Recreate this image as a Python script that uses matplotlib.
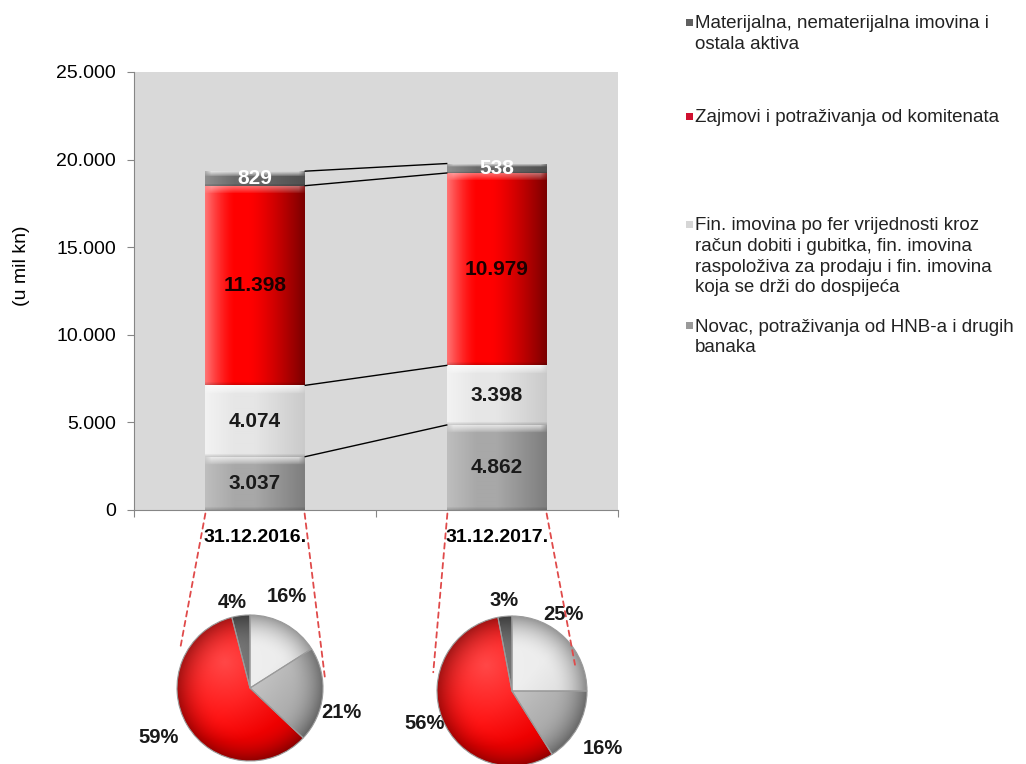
import numpy as np
import matplotlib
matplotlib.use("Agg")
import matplotlib.pyplot as plt
from matplotlib.patches import ConnectionPatch, Rectangle
from matplotlib.colors import to_rgb

plt.rcParams['font.family'] = ['Liberation Sans', 'DejaVu Sans']

# ---------------- data ----------------
categories = ['31.12.2016.', '31.12.2017.']
series_names = ['Novac, potraživanja od HNB-a i drugih\nbanaka',
                'Fin. imovina po fer vrijednosti kroz\nračun dobiti i gubitka, fin. imovina\nraspoloživa za prodaju i fin. imovina\nkoja se drži do dospijeća',
                'Zajmovi i potraživanja od komitenata',
                'Materijalna, nematerijalna imovina i\nostala aktiva']
novac = [3037, 4862]
fin_imovina = [4074, 3398]
zajmovi = [11398, 10979]
materijalna = [829, 538]
bar_labels_2016 = ['3.037', '4.074', '11.398', '829']
bar_labels_2017 = ['4.862', '3.398', '10.979', '538']
pie_2016 = [16, 21, 59, 4]
pie_2017 = [25, 16, 56, 3]
pie_labels_2016 = ['16%', '21%', '59%', '4%']
pie_labels_2017 = ['25%', '16%', '56%', '3%']
yticks = [0, 5000, 10000, 15000, 20000, 25000]
ytick_labels = ['0', '5.000', '10.000', '15.000', '20.000', '25.000']

# ---------------- style ----------------
bar_colors = ['#a8a8a8', '#e6e6e6', '#ff0000', '#6a6a6a']
bar_text_colors = ['#1a1a1a', '#1a1a1a', '#1a0000', 'white']
pie_colors = ['#ebebeb', '#b8b8b8', '#ff0000', '#505050']
legend_marker_colors = ['#9a9a9a', '#d6d6d6', '#d01030', '#606060']

W, H = 1026, 764
fig = plt.figure(figsize=(W / 100, H / 100), dpi=100)

def fx(px):
    return px / W

def fy(py):
    return 1 - py / H

AX_L, AX_T, AX_R, AX_B = 134, 72, 618, 510
ax = fig.add_axes([fx(AX_L), fy(AX_B), (AX_R - AX_L) / W, (AX_B - AX_T) / H])
ax.set_facecolor('#d9d9d9')
YMAX = 25000
px_per_unit = (AX_B - AX_T) / YMAX

xpos = np.array([0.5, 1.5])
bw = 0.41
series = [novac, fin_imovina, zajmovi, materijalna]
bottoms = np.zeros(2)
containers = []
for vals, col in zip(series, bar_colors):
    bc = ax.bar(xpos, vals, bw, bottom=bottoms, color=col, edgecolor='none', zorder=2)
    containers.append(bc)
    bottoms = bottoms + np.array(vals)


def bar_gradient(patch, base, kind):
    x0, y0 = patch.get_x(), patch.get_y()
    w, h = patch.get_width(), patch.get_height()
    hpx = max(int(round(h * px_per_unit)), 3)
    wpx = 100
    base = np.array(to_rgb(base))
    t = np.linspace(0, 1, wpx)
    if kind == 'red':
        lw = 0.45 * np.clip(1 - t / 0.3, 0, 1) ** 1.5
        dk = 0.52 * np.clip((t - 0.45) / 0.55, 0, 1) ** 1.3
    elif kind == 'light':
        lw = 0.5 * np.clip(1 - t / 0.3, 0, 1)
        dk = 0.12 * np.clip((t - 0.5) / 0.5, 0, 1)
    else:
        lw = 0.25 * np.clip(1 - t / 0.3, 0, 1)
        dk = 0.25 * np.clip((t - 0.5) / 0.5, 0, 1)
    row = base[None, :] * (1 - lw[:, None]) + lw[:, None]
    row = row * (1 - dk[:, None])
    img = np.repeat(row[None, :, :], hpx, axis=0)
    bev = min(8, max(hpx // 3, 1))
    edge = np.clip(np.minimum(t, 1 - t) / 0.06, 0, 1)
    for r in range(bev):
        a = 0.75 * (1 - r / bev) ** 0.8
        if kind == 'red':
            a *= 0.6
        aa = a * (0.4 + 0.6 * edge)
        img[r] = img[r] * (1 - aa[:, None]) + aa[:, None]
    nb = min(3, max(hpx // 6, 1))
    for r in range(nb):
        img[hpx - 1 - r] *= 0.85 + 0.05 * r
    im = ax.imshow(np.clip(img, 0, 1), extent=(x0, x0 + w, y0, y0 + h), origin='upper',
                   aspect='auto', interpolation='bilinear', zorder=2.5)
    im.set_clip_path(patch)

kinds = ['mid', 'light', 'red', 'dark']
for bc, col, kd in zip(containers, bar_colors, kinds):
    for p in bc.patches:
        bar_gradient(p, col, kd)

# connector lines between stacked segment boundaries
cum = np.cumsum(np.array(series), axis=0)
for k in range(cum.shape[0]):
    ax.plot([xpos[0] + bw / 2, xpos[1] - bw / 2], [cum[k, 0], cum[k, 1]],
            color='black', lw=1.0, zorder=3, solid_capstyle='butt')

# value labels
labels_all = [bar_labels_2016, bar_labels_2017]
bottoms = np.zeros(2)
for si, vals in enumerate(series):
    for ci in range(2):
        yc = bottoms[ci] + vals[ci] / 2
        ax.text(xpos[ci], yc, labels_all[ci][si], ha='center', va='center',
                fontsize=15, fontweight='bold', color=bar_text_colors[si], zorder=4)
    bottoms = bottoms + np.array(vals)

ax.set_xlim(0, 2)
ax.set_ylim(0, YMAX)
ax.set_yticks(yticks)
ax.set_yticklabels(ytick_labels, fontsize=14)
ax.set_xticks([0, 1, 2])
ax.set_xticklabels(['', '', ''])
ax.set_xticks(xpos, minor=True)
ax.set_xticklabels(categories, minor=True, fontsize=14, fontweight='bold')
ax.tick_params(axis='x', which='minor', length=0, pad=13.5)
ax.tick_params(axis='x', which='major', length=5, color='#868686', direction='out')
ax.tick_params(axis='y', length=5, color='#868686', direction='out', pad=8)
for s in ['top', 'right']:
    ax.spines[s].set_visible(False)
for s in ['left', 'bottom']:
    ax.spines[s].set_color('#868686')
ax.set_ylabel('(u mil kn)', fontsize=14)
ax.yaxis.set_label_coords((30 - AX_L) / (AX_R - AX_L), (AX_B - 266) / (AX_B - AX_T))

# ---------------- legend ----------------
legend_order = [3, 2, 1, 0]
legend_first_line = [22, 116, 224, 325]
for li, si in enumerate(legend_order):
    yc = legend_first_line[li]
    fig.text(fx(695), fy(yc - 6.5), series_names[si], ha='left', va='top', fontsize=13.5,
             color='#222222', linespacing=1.28)
    fig.patches.append(Rectangle((fx(686), fy(yc + 3.5)), 7 / W, 7 / H,
                                 transform=fig.transFigure, facecolor=legend_marker_colors[si],
                                 edgecolor='none'))

# ---------------- pies ----------------

def pie_axes(cx, cy, r, lim=1.7):
    size = 2 * lim * r
    pa = fig.add_axes([fx(cx - size / 2), fy(cy + size / 2), size / W, size / H])
    pa.set_xlim(-lim, lim)
    pa.set_ylim(-lim, lim)
    pa.axis('off')
    return pa

def shade_wedges(pa, wedges, colors):
    n = 200
    g = np.linspace(-1.02, 1.02, n)
    X, Y = np.meshgrid(g, g[::-1])
    R = np.sqrt(X ** 2 + Y ** 2)
    d = np.sqrt((X + 0.35) ** 2 + (Y - 0.35) ** 2)
    light = 0.28 * np.clip(1 - d / 1.1, 0, 1)
    dark = 0.35 * np.clip((R - 0.55) / 0.45, 0, 1) ** 2 + 0.15 * np.clip((X - Y) / 2, 0, 1)
    for wdg, col in zip(wedges, colors):
        base = np.array(to_rgb(col))
        img = base[None, None, :] * (1 - light[..., None]) + light[..., None]
        img = img * (1 - dark[..., None])
        im = pa.imshow(np.clip(img, 0, 1), extent=(-1.02, 1.02, -1.02, 1.02),
                       interpolation='bilinear', zorder=2)
        im.set_clip_path(wdg)
    pa.set_xlim(-1.7, 1.7)
    pa.set_ylim(-1.7, 1.7)

pie_specs = [
    (250, 688, 73, pie_2016, pie_labels_2016,
     [(0.51, 1.25), (1.25, -0.33), (-1.25, -0.68), (-0.25, 1.17)]),
    (512, 691, 75, pie_2017, pie_labels_2017,
     [(0.68, 1.02), (1.21, -0.76), (-1.16, -0.43), (-0.11, 1.2)]),
]
pie_axes_list = []
for cx, cy, r, vals, labs, lpos in pie_specs:
    pa = pie_axes(cx, cy, r)
    wedges, _ = pa.pie(vals, colors=pie_colors, startangle=90, counterclock=False,
                       radius=1, wedgeprops=dict(edgecolor='#9a9a9a', linewidth=0.8))
    shade_wedges(pa, wedges, pie_colors)
    for wdg in wedges:
        wdg.set_zorder(3)
        wdg.set_facecolor('none')
    for lab, (lx, ly) in zip(labs, lpos):
        pa.text(lx, ly, lab, ha='center', va='center', fontsize=14.5, fontweight='bold',
                color='#1a1a1a', zorder=5)
    pa.set_aspect('equal')
    pie_axes_list.append(pa)

# dashed red connectors from bar bottoms to pies
ends = [[(-0.96, 0.52), (1.03, 0.11)], [(-1.05, 0.25), (0.84, 0.35)]]
for ci in range(2):
    pa = pie_axes_list[ci]
    for side, (ex, ey) in zip([-1, 1], ends[ci]):
        xa = xpos[ci] + side * bw / 2
        cp = ConnectionPatch(xyA=(xa, -200), coordsA=ax.transData,
                             xyB=(ex, ey), coordsB=pa.transData,
                             color='#e04a4a', lw=1.3, linestyle=(0, (3, 2.5)), zorder=1)
        fig.add_artist(cp)

fig.savefig('out.png', dpi=100)
